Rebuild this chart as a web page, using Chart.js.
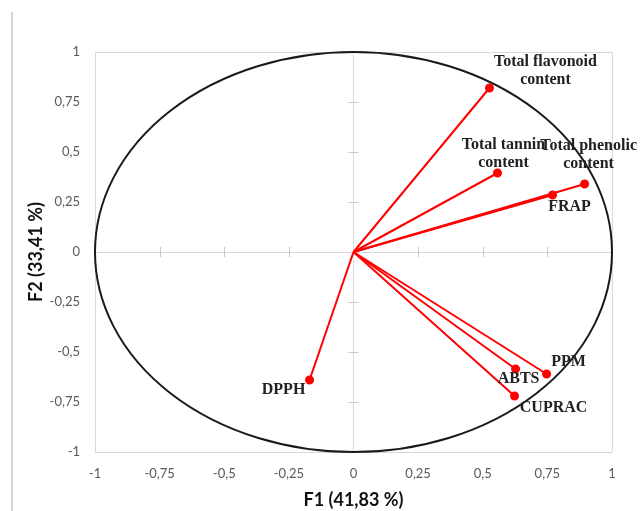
<!DOCTYPE html>
<html lang="en">
<head>
  <meta charset="UTF-8">
  <title>Correlation circle F1 / F2</title>
  <script src="https://cdn.jsdelivr.net/npm/chart.js"></script>
  <style>
    html, body { margin: 0; padding: 0; background: #fff; }
    .wrap { width: 640px; height: 511px; position: relative; }
  </style>
</head>
<body>
<div class="wrap">
  <canvas id="circleChart" width="640" height="511"></canvas>
</div>

<script>
  // variables and their loadings on F1 / F2
  const variables = ['Total flavonoid content', 'Total tannin content', 'Total phenolic content', 'FRAP', 'PPM', 'ABTS', 'CUPRAC', 'DPPH'];
  const f1 = [0.526, 0.557, 0.894, 0.77, 0.747, 0.627, 0.623, -0.17];
  const f2 = [0.82, 0.395, 0.34, 0.285, -0.61, -0.585, -0.72, -0.64];
  const tickValues = [-1, -0.75, -0.5, -0.25, 0, 0.25, 0.5, 0.75, 1];

  // label placement (pixel offset from the point, label lines)
  const labelLines = [['Total flavonoid', 'content'], ['Total tannin', 'content'], ['Total phenolic', 'content'], ['FRAP'], ['PPM'], ['ABTS'], ['CUPRAC'], ['DPPH']];
  const labelOffset = [[56, -17], [6, -19], [4, -29], [17, 12], [22, -12], [3, 10], [39, 12], [-26, 10]];

  const fmt = v => String(v).replace('.', ',');

  // one dataset per vector: origin -> loading
  const datasets = variables.map((name, i) => ({
    label: name,
    data: [{ x: 0, y: 0 }, { x: f1[i], y: f2[i] }],
    showLine: true,
    borderColor: '#ff0000',
    backgroundColor: '#ff0000',
    borderWidth: 2,
    pointRadius: [0, 3.5],
    pointHoverRadius: [0, 3.5]
  }));

  const gridColor = ctx => (ctx.tick && (ctx.tick.value === 0 || Math.abs(ctx.tick.value) === 1)) ? '#d9d9d9' : 'transparent';

  const circlePlugin = {
    id: 'circlePlugin',
    beforeDraw(chart) {
      const c = chart.ctx;
      c.save();
      c.strokeStyle = '#d4d4d4';
      c.lineWidth = 2;
      c.beginPath();
      c.moveTo(12, 12);
      c.lineTo(12, chart.height);
      c.stroke();
      c.restore();
    },
    beforeDatasetsDraw(chart) {
      const c = chart.ctx;
      const xs = chart.scales.x, ys = chart.scales.y;
      const x0 = xs.getPixelForValue(0), y0 = ys.getPixelForValue(0);
      c.save();
      // little tick marks on the zero axes
      c.strokeStyle = '#c8c8c8';
      c.lineWidth = 1;
      tickValues.forEach(v => {
        if (v === 0 || Math.abs(v) === 1) return;
        const py = Math.round(ys.getPixelForValue(v)) + 0.5;
        c.beginPath(); c.moveTo(x0 - 5, py); c.lineTo(x0 + 5, py); c.stroke();
        const px = Math.round(xs.getPixelForValue(v)) + 0.5;
        c.beginPath(); c.moveTo(px, y0 - 5); c.lineTo(px, y0 + 5); c.stroke();
      });
      // unit circle
      const rx = xs.getPixelForValue(1) - x0;
      const ry = y0 - ys.getPixelForValue(1);
      c.strokeStyle = '#1a1a1a';
      c.lineWidth = 2;
      c.beginPath();
      c.ellipse(x0, y0, rx, ry, 0, 0, Math.PI * 2);
      c.stroke();
      c.restore();
    },
    afterDatasetsDraw(chart) {
      const c = chart.ctx;
      const xs = chart.scales.x, ys = chart.scales.y;
      c.save();
      c.font = 'bold 16px "Liberation Serif", "DejaVu Serif", serif';
      c.fillStyle = '#222';
      c.textAlign = 'center';
      c.textBaseline = 'middle';
      variables.forEach((name, i) => {
        const px = xs.getPixelForValue(f1[i]) + labelOffset[i][0];
        const py = ys.getPixelForValue(f2[i]) + labelOffset[i][1];
        const lines = labelLines[i];
        const lh = 18;
        lines.forEach((t, k) => {
          c.fillText(t, px, py + (k - (lines.length - 1) / 2) * lh);
        });
      });
      c.restore();
    }
  };

  const tickFont = { family: 'Lato, "Open Sans", sans-serif', size: 13 };
  const titleFont = { family: 'Lato, "Open Sans", sans-serif', size: 18, weight: 'bold' };

  new Chart(document.getElementById('circleChart'), {
    type: 'scatter',
    data: { datasets },
    options: {
      responsive: false,
      animation: false,
      layout: { padding: { top: 52, right: 28, left: 0, bottom: 0 } },
      plugins: { legend: { display: false }, tooltip: { enabled: false } },
      scales: {
        x: {
          min: -1, max: 1,
          afterBuildTicks: s => { s.ticks = tickValues.map(v => ({ value: v })); },
          afterFit: s => { s.height = 59; },
          grid: { color: gridColor, drawTicks: false, lineWidth: 1 },
          border: { display: false },
          ticks: { padding: 14, color: '#595959', font: tickFont, callback: v => fmt(v), maxRotation: 0 },
          title: { display: true, text: 'F1 (41,83 %)', color: '#111', padding: { top: 0, bottom: 0 }, font: titleFont }
        },
        y: {
          min: -1, max: 1,
          afterBuildTicks: s => { s.ticks = tickValues.map(v => ({ value: v })); },
          afterFit: s => { s.width = 95; },
          grid: { color: gridColor, drawTicks: false, lineWidth: 1 },
          border: { display: false },
          ticks: { padding: 15, color: '#595959', font: tickFont, callback: v => fmt(v) },
          title: { display: true, text: 'F2 (33,41 %)', color: '#111', padding: { top: 25, bottom: 0 }, font: titleFont }
        }
      }
    },
    plugins: [circlePlugin]
  });
</script>
</body>
</html>
